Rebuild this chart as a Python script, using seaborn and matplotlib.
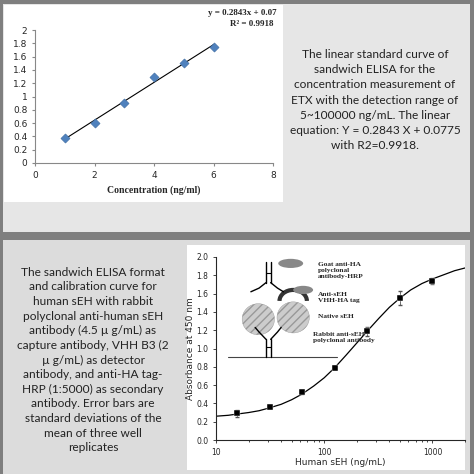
import matplotlib
matplotlib.use("Agg")
import matplotlib.pyplot as plt
import numpy as np
import pandas as pd
import seaborn as sns
from matplotlib.patches import Rectangle, Ellipse, Arc

# top chart: linear standard curve
conc = [1, 2, 3, 4, 5, 6]
absorb_top = [0.38, 0.60, 0.90, 1.30, 1.50, 1.75]
trend_x = [1, 6]
trend_y = [0.36, 1.78]

# bottom chart: sEH calibration
seh_conc = [15.6, 31.25, 62.5, 125, 250, 500, 1000]
seh_abs = [0.29, 0.36, 0.52, 0.79, 1.19, 1.55, 1.74]
seh_err = [0.04, 0.01, 0.02, 0.01, 0.05, 0.08, 0.03]
fit_x = [10, 13, 16, 20, 25, 31, 40, 50, 62, 80, 100, 125, 160, 200, 250,
         320, 400, 500, 630, 800, 1000, 1300, 1600, 2000]
fit_y = [0.26, 0.27, 0.285, 0.30, 0.32, 0.35, 0.39, 0.44, 0.50, 0.59, 0.68,
         0.79, 0.93, 1.06, 1.19, 1.33, 1.45, 1.55, 1.64, 1.71, 1.76, 1.81,
         1.85, 1.88]

top_text = ("The linear standard curve of\nsandwich ELISA for the\n"
            "concentration measurement of\nETX with the detection range of\n"
            "5~100000 ng/mL. The linear\nequation: Y = 0.2843 X + 0.0775\n"
            "with R2=0.9918.")
bottom_text = ("The sandwich ELISA format\nand calibration curve for\n"
               "human sEH with rabbit\npolyclonal anti-human sEH\n"
               "antibody (4.5 µ g/mL) as\ncapture antibody, VHH B3 (2\n"
               "µ g/mL) as detector\nantibody, and anti-HA tag-\n"
               "HRP (1:5000) as secondary\nantibody. Error bars are\n"
               "standard deviations of the\nmean of three well\nreplicates")

sns.set_style("ticks")
plt.rcParams["font.family"] = ["DejaVu Sans"]

W = 474
fig = plt.figure(figsize=(4.74, 4.74), dpi=100)
fig.patch.set_facecolor("#7f7f7f")


def box(x, y, w, h, color):
    # pixel coords from top-left
    fig.add_artist(Rectangle((x / W, 1 - (y + h) / W), w / W, h / W,
                             transform=fig.transFigure, facecolor=color,
                             edgecolor="none", zorder=0))


box(3, 4, 467, 228, "#e6e6e6")
box(3, 240, 467, 234, "#dcdcdc")
box(4, 5, 279, 197, "white")
box(187, 245, 278, 225, "white")

# top panel
ax1 = fig.add_axes([35 / W, 1 - 163 / W, 238 / W, 133 / W])
ax1.set_facecolor("white")
sns.lineplot(x=trend_x, y=trend_y, ax=ax1, color="black", lw=0.8)
sns.scatterplot(x=conc, y=absorb_top, ax=ax1, marker="D", s=22,
                color="#4f81bd", edgecolor="#3c6a9e", zorder=3)
ax1.set_xlim(0, 8)
ax1.set_ylim(0, 2)
ax1.set_xticks(range(0, 9, 2))
ax1.set_yticks(np.arange(0, 2.01, 0.2))
ax1.set_yticklabels([f"{v:g}" for v in np.arange(0, 2.01, 0.2).round(1)])
for s in ["top", "right"]:
    ax1.spines[s].set_visible(False)
ax1.spines["left"].set_color("#888888")
ax1.spines["bottom"].set_color("#888888")
ax1.tick_params(labelsize=6.5, length=2, color="#888888")
ax1.set_xlabel("Concentration (ng/ml)", family="Liberation Serif",
               fontweight="bold", fontsize=7)
ax1.set_ylabel("")
fig.text(208 / W, 1 - 13 / W, "y = 0.2843x + 0.07", family="Liberation Serif",
         fontweight="bold", fontsize=6.5, va="center")
fig.text(274 / W, 1 - 24 / W, "R² = 0.9918", family="Liberation Serif",
         fontweight="bold", fontsize=6.5, va="center", ha="right")

fig.text(375 / W, 1 - 100 / W, top_text, family="Lato", fontsize=8.6,
         ha="center", va="center", linespacing=1.45, color="#222222")

# bottom panel
ax2 = fig.add_axes([216 / W, 1 - 440 / W, 249 / W, 183 / W])
ax2.set_facecolor("white")
sns.lineplot(x=fit_x, y=fit_y, ax=ax2, color="black", lw=0.9)
ax2.errorbar(seh_conc, seh_abs, yerr=seh_err, fmt="none", ecolor="#555555",
             elinewidth=0.6, capsize=1.5)
sns.scatterplot(x=seh_conc, y=seh_abs, ax=ax2, marker="s", s=14,
                color="black", zorder=3)
ax2.set_xscale("log")
ax2.set_xlim(10, 2000)
ax2.set_ylim(0, 2)
ax2.set_yticks(np.arange(0, 2.01, 0.2))
ax2.set_yticklabels([f"{v:.1f}" for v in np.arange(0, 2.01, 0.2)])
ax2.set_xticks([10, 100, 1000])
ax2.set_xticklabels(["10", "100", "1000"])
for s in ["top", "right"]:
    ax2.spines[s].set_visible(False)
ax2.tick_params(labelsize=5.5, length=2, width=0.6)
ax2.tick_params(which="minor", length=1.2)
ax2.set_xlabel("Human sEH (ng/mL)", fontsize=6.5, labelpad=1)
ax2.set_ylabel("Absorbance at 450 nm", fontsize=6.5, labelpad=1)

# schematic drawing
ax2.plot([13, 130], [0.91, 0.91], color="#444444", lw=0.8)
for xs in ([29, 29], [32, 32]):
    ax2.plot(xs, [0.91, 1.1], color="black", lw=1.0)
    ax2.plot(xs, [1.72, 1.95], color="black", lw=1.0)
ax2.plot([29, 32], [1.82, 1.82], color="black", lw=0.8)
ax2.plot([29, 32], [1.02, 1.02], color="black", lw=0.8)
ax2.plot([29, 25, 21], [1.72, 1.66, 1.62], color="black", lw=1.0)
ax2.plot([32, 37, 42], [1.72, 1.66, 1.62], color="black", lw=1.0)
ax2.plot([29, 25, 23], [1.10, 1.18, 1.23], color="black", lw=1.0)
ax2.plot([32, 37, 40], [1.10, 1.18, 1.23], color="black", lw=1.0)
ax2.add_patch(Ellipse((0.17, 0.66), 0.13, 0.17, transform=ax2.transAxes,
                      facecolor="#cccccc", edgecolor="#999999", hatch="////", lw=0.3))
ax2.add_patch(Ellipse((0.31, 0.67), 0.13, 0.17, transform=ax2.transAxes,
                      facecolor="#cccccc", edgecolor="#999999", hatch="////", lw=0.3))
ax2.add_patch(Arc((0.31, 0.76), 0.11, 0.12, theta1=0, theta2=180,
                  transform=ax2.transAxes, color="#333333", lw=3))
ax2.add_patch(Ellipse((0.30, 0.965), 0.1, 0.05, transform=ax2.transAxes,
                      facecolor="#888888", edgecolor="none"))
ax2.add_patch(Ellipse((0.35, 0.82), 0.08, 0.045, transform=ax2.transAxes,
                      facecolor="#888888", edgecolor="none"))
lab = dict(family="Liberation Serif", fontweight="bold", fontsize=5.3,
           transform=ax2.transAxes, va="top", linespacing=1.2)
ax2.text(0.41, 0.97, "Goat anti-HA\npolyclonal\nantibody-HRP", **lab)
ax2.text(0.41, 0.81, "Anti-sEH\nVHH-HA tag", **lab)
ax2.text(0.41, 0.69, "Native sEH", **lab)
ax2.text(0.39, 0.59, "Rabbit anti-sEH\npolyclonal antibody", **lab)

fig.text(93 / W, 1 - 360 / W, bottom_text, family="Lato", fontsize=8.6,
         ha="center", va="center", linespacing=1.4, color="#222222")

fig.savefig("out.png", dpi=100, facecolor=fig.get_facecolor())
